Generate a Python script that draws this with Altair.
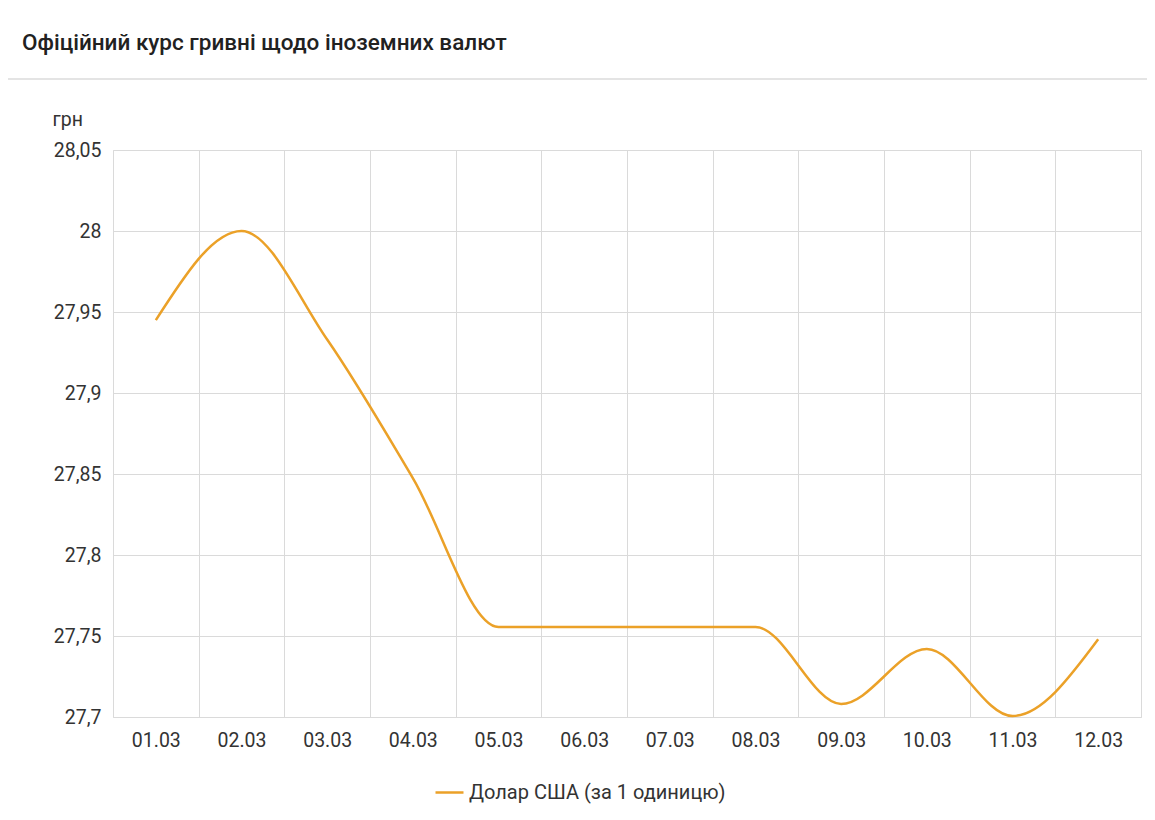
import pandas as pd
import altair as alt

# дані
dates = ['01.03', '02.03', '03.03', '04.03', '05.03', '06.03',
         '07.03', '08.03', '09.03', '10.03', '11.03', '12.03']
usd = [27.945, 28.0, 27.933, 27.8475, 27.7556, 27.7556,
       27.7556, 27.7556, 27.708, 27.742, 27.7006, 27.748]
series = 'Долар США (за 1 одиницю)'
y_ticks = [27.7, 27.75, 27.8, 27.85, 27.9, 27.95, 28.0, 28.05]

df = pd.DataFrame({'date': dates, 'rate': usd, 'series': series})

line = alt.Chart(df).mark_line(interpolate='monotone', strokeWidth=2.5).encode(
    x=alt.X('date:O', sort=dates, bandPosition=0.5,
            scale=alt.Scale(type='band', paddingInner=0, paddingOuter=0),
            axis=alt.Axis(title=None, tickBand='extent', grid=True, ticks=False, domain=False,
                          labelAngle=0, labelPadding=14, labelFontSize=19.5,
                          labelColor='#333333', gridColor='#dadada')),
    y=alt.Y('rate:Q', scale=alt.Scale(domain=[27.7, 28.05], zero=False, nice=False),
            axis=alt.Axis(title='грн', values=y_ticks, ticks=False, domain=False,
                          labelExpr="replace(format(datum.value, '.2~f'), '.', ',')",
                          labelPadding=12, labelFontSize=19.5, labelColor='#333333',
                          gridColor='#dadada',
                          titleAngle=0, titleAlign='left', titleBaseline='alphabetic',
                          titleX=-61, titleY=-25, titleFontSize=19.5,
                          titleFontWeight='normal', titleColor='#333333')),
    color=alt.Color('series:N',
                    scale=alt.Scale(domain=[series], range=['#eba128']),
                    legend=alt.Legend(title=None, orient='none', legendX=321, legendY=627,
                                      symbolType='stroke', symbolSize=784,
                                      symbolStrokeWidth=2.5, labelFontSize=20,
                                      labelLimit=0, labelColor='#333333'))
)

# рамка заголовку
shadow = alt.Chart(df).mark_rule(color='#e4e4e4', strokeWidth=2).encode(
    x=alt.value(-113), x2=alt.value(1042), y=alt.value(-71))
green = alt.Chart(df).mark_rule(color='#8fd3a0', strokeWidth=2).encode(
    x=alt.value(-112), y=alt.value(-142), y2=alt.value(-72))

chart = alt.layer(line, shadow, green).properties(
    width=1028, height=567,
    title=alt.TitleParams('Офіційний курс гривні щодо іноземних валют',
                          anchor='start', frame='group', dx=-91, offset=0, dy=47,
                          fontSize=22.5, fontWeight=500, color='#212121'),
    autosize=alt.AutoSizeParams(type='none'),
    padding={'left': 105, 'top': 142, 'right': 6, 'bottom': 95},
).configure(
    font='Roboto', background='white'
).configure_view(
    stroke='#dadada'
)

chart.save('out.html', embed_options={'renderer': 'svg', 'actions': False})
